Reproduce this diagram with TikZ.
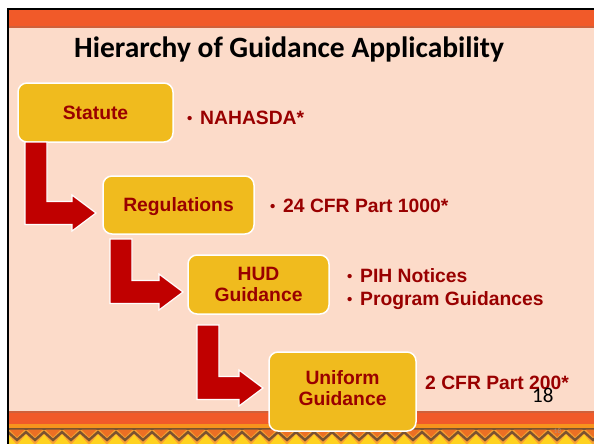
\documentclass[tikz,border=0pt]{standalone}
\usepackage{fontspec}
\newfontfamily\arialf{Liberation Sans}
\newfontfamily\calib{Carlito}
\usetikzlibrary{calc}
\definecolor{peach}{HTML}{FCDBC9}
\definecolor{bandorange}{HTML}{F15A29}
\definecolor{bandshadow}{HTML}{D0603A}
\definecolor{lightorange}{HTML}{F7941D}
\definecolor{zzlight}{HTML}{F8A131}
\definecolor{zzdark}{HTML}{EC6F24}
\definecolor{zzbrown}{HTML}{7A5230}
\definecolor{zzyellow}{HTML}{FFD21F}
\definecolor{boxgold}{HTML}{F0BB1E}
\definecolor{dred}{HTML}{990000}
\definecolor{arrred}{HTML}{C00000}
\definecolor{tinygray}{HTML}{B09080}
\tikzset{
  gbox/.style={draw=white, line width=1.5pt, fill=boxgold, rounded corners=9pt,
    inner sep=0pt, outer sep=0pt, text=dred, align=center, text depth=0pt,
    font=\arialf\bfseries\fontsize{19.3}{21}\selectfont},
  ltext/.style={text=dred, anchor=base west, inner sep=0pt,
    font=\arialf\bfseries\fontsize{19.3}{23}\selectfont},
  redarrow/.style={fill=arrred, draw=white, line width=1.2pt, line join=miter},
  titletext/.style={font=\calib\bfseries\fontsize{29.5}{34}\selectfont, anchor=base west, inner sep=0pt},
  pagenum/.style={font=\calib\fontsize{21}{24}\selectfont, anchor=base west, inner sep=0pt},
  tinynum/.style={font=\calib\fontsize{7}{8}\selectfont, text=tinygray, inner sep=0pt}
}
\newcommand\redL[6]{\path[redarrow] let \p1=($(#1.south west)+(#3,#4)$), \p2=($(#2.west)+(#5,#6)$) in
  (\x1,\y1) -- (\x1+22,\y1) -- (\x1+22,\y2+11.5) -- (\x2-24,\y2+11.5) -- (\x2-24,\y2+18) -- (\x2,\y2)
  -- (\x2-24,\y2-18) -- (\x2-24,\y2-11.5) -- (\x1,\y2-11.5) -- cycle;}
\newcommand\bul{\makebox[13pt][l]{\raisebox{0.5pt}{\fontsize{15}{15}\selectfont •}}}
\begin{document}
\begin{tikzpicture}[x=1pt,y=-1pt]
\useasboundingbox (0,0) rectangle (594,444);
% frame
\fill[white] (0,0) rectangle (594,444);
\fill[peach] (9,10) rectangle (594,412);
\fill[bandorange] (9,10) rectangle (594,27);
\fill[bandshadow] (9,26.5) rectangle (594,28);
\fill[bandshadow] (9,411) rectangle (594,413);
\fill[bandorange] (9,413) rectangle (594,424);
\fill[lightorange] (9,424) rectangle (594,427.5);
\fill[zzbrown] (9,427.5) rectangle (594,429.5);
\fill[zzlight] (9,429.5) rectangle (594,444);
\begin{scope}
\clip (9,429.5) rectangle (594,444);
\foreach \k in {0,...,34} {
  \pgfmathsetmacro\px{8+18*\k}
  \fill[zzdark] (\px+1.5,429.5) -- (\px+16.5,429.5) -- (\px+9,437) -- cycle;
  \fill[zzyellow] (\px-8,444) -- (\px,434.5) -- (\px+8,444) -- cycle;
}
\draw[zzbrown, line width=2.4pt, line join=miter] (-10,432) \foreach \k in {0,...,34} { -- ({8+18*\k-9},440) -- ({8+18*\k},432) };
\end{scope}
\fill[black] (7,8) rectangle (594,10);
\fill[black] (7,8) rectangle (9,444);
% title
\node[titletext] (title) at (74,58) {Hierarchy of Guidance Applicability};
% boxes
\node[gbox, minimum width=155pt, minimum height=59pt] (stat) at (95.5,112.5) {Statute};
\node[gbox, minimum width=151pt, minimum height=58pt] (reg) at (178.5,205) {Regulations};
\node[gbox, minimum width=141pt, minimum height=59pt] (hud) at (258.5,284.5) {HUD\\Guidance};
\node[gbox, minimum width=147pt, minimum height=79pt, text depth=7pt] (uni) at (342.5,391.5) {Uniform\\Guidance};
% arrows
\redL{stat}{reg}{7}{0}{-7}{8}
\redL{reg}{hud}{7}{5}{-5}{7.5}
\redL{hud}{uni}{9}{11}{-6}{-3.5}
% side texts
\node[ltext] (l1) at (187,124) {\bul NAHASDA*};
\node[ltext] (l2) at (270,212) {\bul 24 CFR Part 1000*};
\node[ltext] (l3a) at (347,282) {\bul PIH Notices};
\node[ltext] (l3b) at (347,305) {\bul Program Guidances};
\node[ltext] (l4) at (425,389) {2 CFR Part 200*};
% page numbers
\node[pagenum] (pg) at (532,402) {18};
\node[tinynum] (pgsmall) at (557.5,431.5) {18};
\end{tikzpicture}
\end{document}
